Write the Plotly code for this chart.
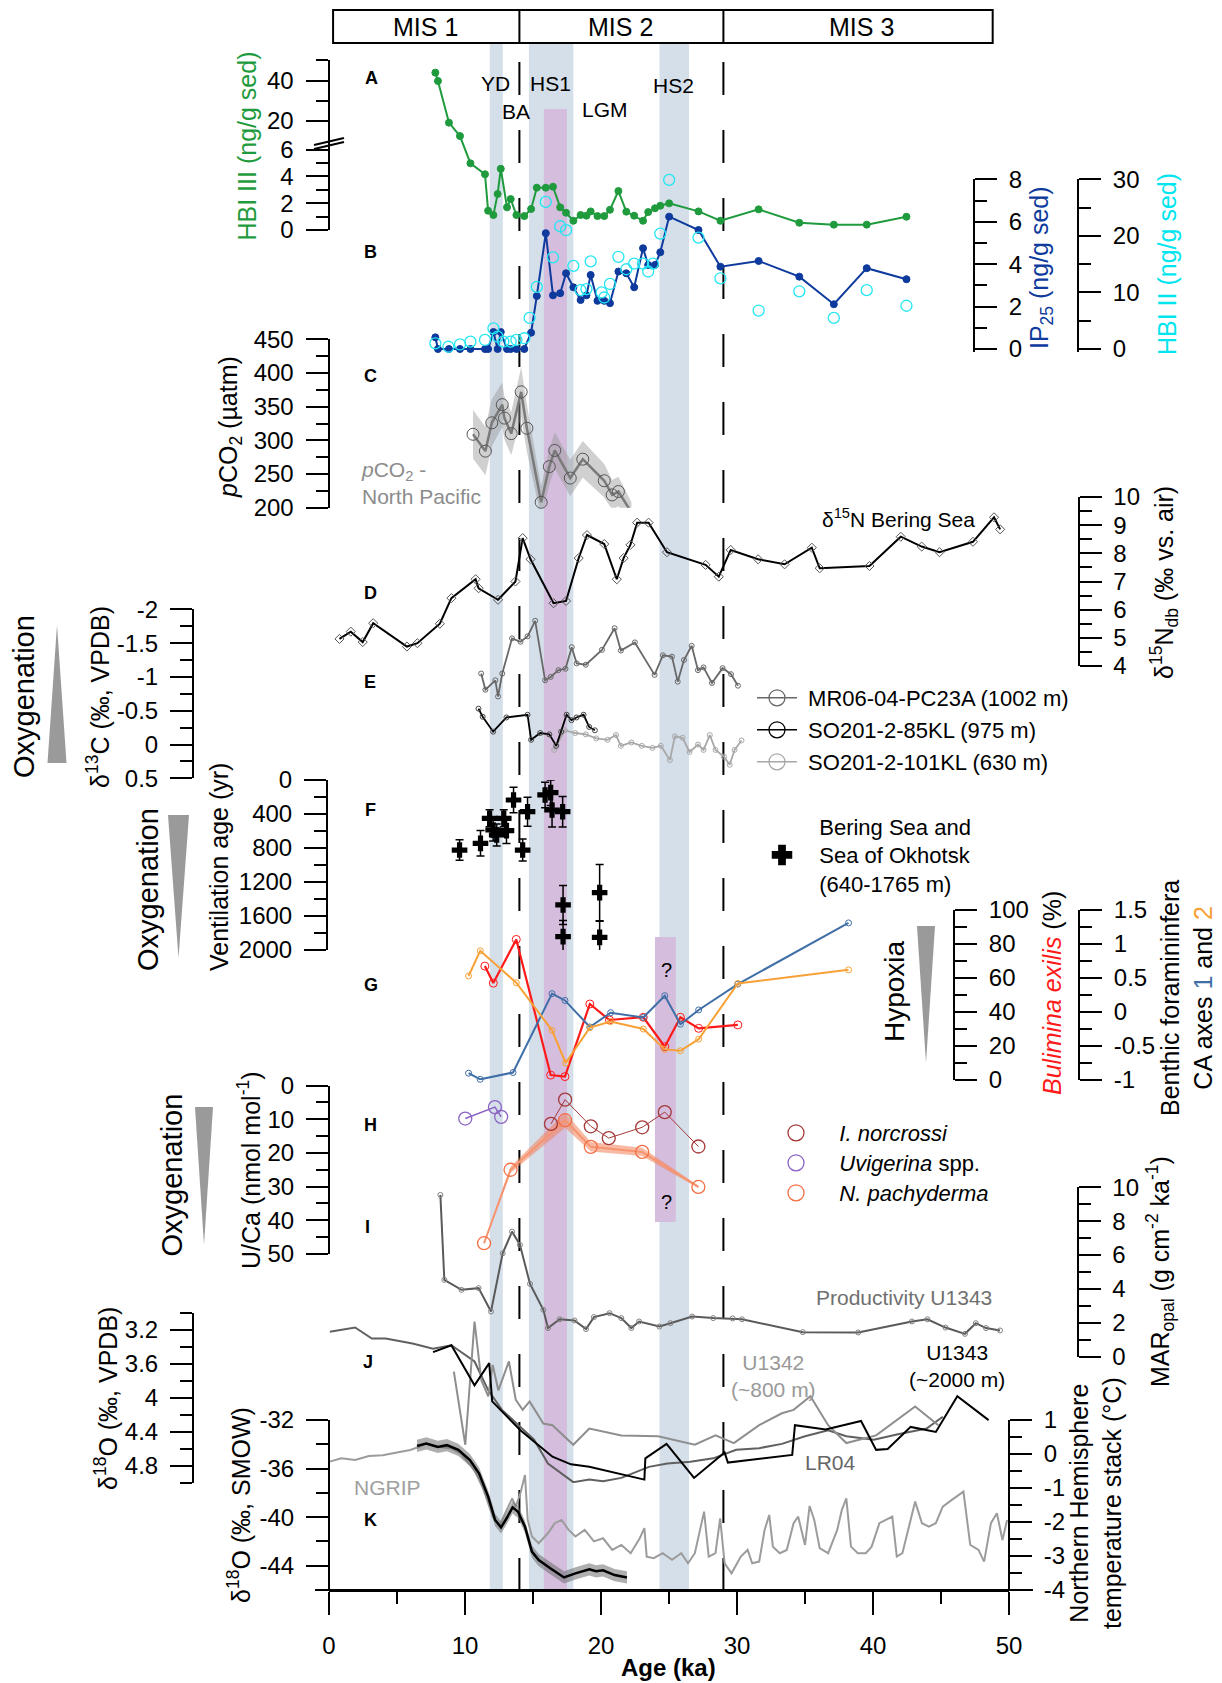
import plotly.graph_objects as go

W, H = 1222, 1683
FONT = "Liberation Sans, Arial, Helvetica, sans-serif"

# ---------------- data ----------------
mis_labels = ["MIS 1", "MIS 2", "MIS 3"]
event_labels = ["YD", "HS1", "HS2", "BA", "LGM"]

# A / B biomarkers
bio_age = [7.82, 8.01, 8.82, 9.63, 10.4, 11.47, 11.7, 12.09, 12.4, 12.63, 13.09, 13.36, 13.78, 14.36,
           14.86, 15.28, 15.94, 16.47, 17.0, 17.43, 17.97, 18.5, 18.93, 19.24, 19.74, 20.24, 20.66,
           21.28, 21.86, 22.44, 23.09, 23.47, 23.97, 24.36, 25.01, 27.17, 28.78, 31.59, 34.58, 37.12,
           39.54, 42.46]
hbi3_val = [44.2, 40, 19.2, 12.5, 4.98, 4.16, 1.44, 1.12, 2.69, 4.57, 1.69, 2.31, 1.12, 1.04, 1.57,
            3.16, 3.16, 3.23, 1.69, 1.29, 0.69, 1.12, 1.07, 1.39, 1.04, 1.04, 1.51, 2.91, 1.37, 1.07,
            0.69, 1.34, 1.62, 1.81, 1.99, 1.39, 0.69, 1.54, 0.54, 0.40, 0.40, 0.99]
ip25_val = [0.55, 0, 0, 0, 0, 0, 0, 0.8, 0, 0.8, 0, 0, 0, 0, 0.77, 2.5, 5.46, 2.53, 2.63, 3.57, 2.91,
            2.31, 2.53, 3.49, 2.27, 2.27, 2.16, 3.65, 3.57, 2.91, 4.75, 3.96, 3.96, 4.56, 6.24, 5.61,
            3.88, 4.15, 3.41, 2.11, 3.81, 3.29]
hbi2_age = [7.82, 8.78, 9.63, 10.4, 11.47, 12.09, 12.4, 12.82, 13.36, 13.78, 14.36, 14.75, 15.28,
            15.94, 16.47, 17.0, 17.43, 17.97, 18.5, 18.93, 19.24, 20.05, 20.24, 20.66, 21.28, 21.86,
            22.44, 23.09, 23.47, 23.82, 24.36, 25.01, 27.17, 28.78, 31.59, 34.58, 37.12, 39.54, 42.46]
hbi2_val = [1.0, 0.4, 0.8, 1.3, 1.6, 3.65, 2.2, 1.3, 1.3, 1.6, 1.9, 5.5, 11.0, 26.0, 16.2, 21.7, 21.0,
            14.7, 10.4, 10.6, 15.5, 10.0, 9.1, 11.5, 16.3, 14.1, 15.1, 15.1, 13.7, 15.1, 20.4, 29.9,
            19.7, 12.5, 6.8, 10.2, 5.5, 10.4, 7.65]

# C pCO2
pco2_age = [10.59, 11.5, 11.97, 12.74, 12.9, 13.4, 14.13, 14.55, 15.6, 16.2, 16.6, 17.74, 18.66,
            20.24, 20.82, 21.28, 22.24]
pco2_val = [309, 284, 326, 353, 333, 310, 372, 318, 208, 261, 285, 244, 272, 240, 219, 224, 193]
pco2_err = [36, 36, 35, 33, 32, 32, 37, 35, 24, 27, 27, 27, 27, 25, 22, 22, 15]

# D d15N
d15n_age = [0.77, 1.6, 2.48, 3.25, 5.73, 6.5, 8.15, 9.0, 10.78, 11.0, 12.43, 13.71, 14.24, 14.82,
            16.51, 17.43, 18.36, 18.97, 20.24, 21.16, 21.66, 22.16, 22.66, 23.5, 24.85, 27.69, 28.66,
            29.54, 31.55, 33.5, 35.5, 36.08, 39.74, 42.04, 43.58, 44.89, 47.35, 48.9, 49.35]
d15n_val = [4.96, 5.22, 4.85, 5.52, 4.69, 4.81, 5.5, 6.41, 7.08, 6.76, 6.35, 7.0, 8.54, 7.79, 6.23,
            6.31, 7.83, 8.65, 8.33, 7.08, 7.83, 8.3, 9.09, 9.09, 8.04, 7.59, 7.17, 8.12, 7.79, 7.61,
            8.2, 7.47, 7.55, 8.59, 8.24, 8.04, 8.41, 9.28, 8.85]

# E d13C
mr06_age = [11.19, 11.5, 12.23, 12.43, 12.74, 13.46, 14.08, 14.6, 15.16, 15.89, 16.3, 16.87, 17.39,
            17.85, 18.21, 18.88, 20.07, 21.0, 21.46, 22.49, 23.94, 24.55, 25.22, 25.64, 26.1, 26.67,
            27.13, 27.54, 28.16, 28.94, 29.56, 30.07]
mr06_val = [-1.05, -0.81, -0.95, -0.71, -1.05, -1.57, -1.52, -1.6, -1.83, -0.95, -1.0, -1.1, -1.12,
            -1.44, -1.2, -1.18, -1.4, -1.72, -1.39, -1.51, -1.03, -1.32, -1.3, -0.93, -1.25, -1.46,
            -1.1, -1.14, -0.91, -1.13, -1.04, -0.87]
so85_age = [10.99, 11.3, 12.07, 13.05, 14.6, 14.86, 15.53, 16.2, 16.71, 17.07, 17.47, 17.83, 18.2,
            18.72, 19.13, 19.55]
so85_val = [-0.53, -0.41, -0.19, -0.4, -0.44, -0.07, -0.17, -0.15, 0.02, -0.19, -0.44, -0.36, -0.4,
            -0.44, -0.26, -0.21]
so101_age = [16.56, 17.33, 18.1, 18.88, 19.65, 20.48, 21.1, 21.46, 22.23, 23.0, 23.78, 24.4, 25.07,
             25.43, 26.0, 26.51, 27.13, 27.54, 28.0, 28.42, 29.04, 29.46, 29.82, 30.33]
so101_val = [0.08, -0.21, -0.17, -0.15, -0.09, -0.07, -0.14, 0.02, -0.03, 0.02, 0.05, 0.02, 0.23,
             -0.12, -0.1, 0.11, 0.0, 0.08, -0.14, 0.08, 0.18, 0.3, 0.08, -0.06]

# F ventilation age
vent_ka = [9.6, 11.14, 11.81, 12.07, 12.33, 12.85, 13.05, 13.57, 14.24, 14.6, 15.89, 16.3, 16.4,
           17.18, 17.21, 17.21, 19.9, 19.9]
vent_yr = [824, 745, 451, 588, 647, 451, 596, 235, 824, 373, 176, 149, 353, 373, 1470, 1843, 1325,
           1851]
vent_err = [120, 150, 100, 130, 130, 100, 150, 150, 130, 170, 150, 150, 200, 180, 230, 190, 330, 190]

# G hypoxia
bul_age = [11.46, 12.08, 13.77, 16.3, 17.35, 19.18, 20.62, 23.11, 24.69, 25.84, 27.18, 30.06]
bul_val = [67, 57, 82.7, 2.9, 2.0, 44.7, 35.3, 36.9, 19.6, 36.9, 30.4, 32.4]
ca1_age = [10.26, 11.12, 13.53, 16.4, 17.35, 19.18, 20.71, 23.11, 24.69, 25.84, 27.18, 30.06, 38.2]
ca1_val = [-0.9, -0.99, -0.89, 0.27, 0.17, -0.22, -0.01, -0.08, 0.24, -0.18, 0.03, 0.41, 1.31]
ca2_age = [10.26, 11.12, 13.77, 16.4, 17.4, 19.18, 20.71, 23.11, 24.69, 25.84, 27.18, 30.06, 38.2]
ca2_val = [0.53, 0.9, 0.43, -0.27, -0.75, -0.23, -0.14, -0.25, -0.55, -0.57, -0.4, 0.42, 0.62]

# H U/Ca
norc_age = [16.32, 17.36, 19.25, 20.57, 23.03, 24.69, 27.16]
norc_val = [11.4, 4.2, 12.1, 15.6, 12.4, 7.9, 18.1]
uvi_age = [10.02, 12.2, 12.66]
uvi_val = [9.8, 6.4, 9.3]
pachy_age = [11.4, 13.35, 17.36, 19.25, 23.03, 27.16]
pachy_val = [46.8, 25.0, 10.3, 18.2, 19.7, 30.1]
pachy_err = [0.4, 1.0, 2.2, 1.4, 1.2, 0.4]

# I opal MAR
mar_age = [8.19, 8.48, 9.74, 11.0, 11.91, 12.77, 13.46, 14.04, 14.78, 15.76, 16.1, 16.96, 18.05,
           18.9, 19.48, 20.63, 21.49, 22.23, 22.8, 24.29, 25.1, 26.7, 28.25, 29.68, 30.37, 34.84,
           38.91, 42.86, 44.0, 45.33, 46.76, 47.56, 48.31, 49.34]
mar_val = [9.55, 4.53, 3.94, 4.04, 2.66, 6.1, 7.38, 6.6, 4.29, 2.76, 1.68, 2.2, 2.13, 1.62, 2.33,
           2.56, 2.27, 1.68, 2.07, 1.77, 1.97, 2.36, 2.27, 2.25, 2.2, 1.44, 1.42, 2.07, 2.2, 1.71,
           1.34, 1.97, 1.68, 1.54]

# J benthic d18O
lr04_age = [0.06, 1.92, 3.15, 4.17, 6.14, 7.65, 9.0, 10.7, 11.71, 12.72, 14.07, 15.08, 16.1, 17.96,
            19.14, 20.15, 21.5, 23.52, 24.88, 26.57, 28.25, 29.94, 31.63, 33.3, 35.0, 36.7, 38.04,
            40.06, 41.75, 43.94, 45.13]
lr04_val = [3.22, 3.17, 3.3, 3.3, 3.36, 3.42, 3.38, 3.57, 3.91, 4.14, 4.34, 4.49, 4.77, 4.99, 4.96,
            4.98, 4.94, 4.81, 4.77, 4.75, 4.71, 4.61, 4.59, 4.54, 4.45, 4.38, 4.45, 4.49, 4.43, 4.36,
            4.22]
u1342_age = [9.18, 10.02, 10.7, 11.2, 11.71, 12.04, 12.45, 13.23, 13.73, 14.24, 14.75, 15.76, 16.43,
             17.96, 19.14, 21.5, 24.2, 26.9, 28.42, 29.77, 31.63, 33.3, 34.16, 35.4, 36.7, 38.04,
             40.23, 43.1, 44.8]
u1342_val = [3.69, 4.55, 3.1, 3.79, 3.98, 3.61, 3.91, 3.57, 4.02, 4.14, 4.04, 4.3, 4.32, 4.55, 4.36,
             4.44, 4.45, 4.55, 4.44, 4.53, 4.32, 4.18, 4.14, 3.98, 4.32, 4.53, 4.44, 4.1, 4.32]
u1343_age = [7.65, 9.0, 10.7, 11.78, 12.0, 14.07, 16.43, 17.79, 19.14, 23.19, 23.26, 24.82, 26.84,
             29.09, 29.33, 34.06, 34.26, 36.52, 39.12, 40.23, 41.08, 42.77, 44.62, 46.2, 48.5]
u1343_val = [3.46, 3.38, 3.85, 3.59, 4.04, 4.38, 4.69, 4.78, 4.81, 4.96, 4.71, 4.54, 4.94, 4.64,
             4.76, 4.67, 4.32, 4.37, 4.27, 4.61, 4.6, 4.34, 4.4, 3.98, 4.26]

# K NGRIP and NH temperature stack
ngrip_age = [0.06, 0.9, 1.92, 2.93, 3.94, 4.96, 5.97, 6.65, 7.15, 8.0, 9.0, 9.68, 10.7, 11.37, 12.04,
             12.55, 13.06, 13.47, 13.73, 14.07, 14.41, 14.61, 14.92, 15.42, 16.1, 16.6, 17.1, 17.62,
             18.12, 18.8, 19.48, 20.15, 20.83, 21.5, 22.18, 22.85, 23.19, 23.36, 23.87, 24.54,
             25.22, 25.9, 26.4, 26.9, 27.58, 27.92, 28.42, 28.76, 29.09, 29.6, 30.28, 30.78, 31.12,
             31.63, 32.03, 32.37, 32.64, 33.15, 33.66, 34.16, 34.5, 35.0, 35.34, 35.68, 36.08, 36.7,
             37.37, 37.71, 38.04, 38.38, 38.89, 39.47, 39.9, 40.47, 41.42, 41.75, 42.16, 42.6, 43.1,
             43.6, 44.11, 44.62, 45.13, 45.8, 46.65, 47.15, 47.76, 48.17, 48.67, 49.11, 49.52, 49.86]
ngrip_val = [-35.43, -35.15, -35.3, -34.96, -34.9, -34.7, -34.47, -34.2, -33.92, -34.2, -34.33,
             -34.74, -36.12, -37.76, -39.96, -40.64, -39.4, -38.45, -39.13, -38.03, -36.53, -40.23,
             -41.6, -42.15, -41.33, -40.5, -40.23, -41.05, -41.6, -41.05, -42.0, -41.74, -42.7,
             -42.29, -42.97, -41.74, -40.91, -43.25, -43.38, -42.97, -43.52, -42.97, -43.8, -42.97,
             -39.55, -43.25, -42.97, -40.1, -43.8, -44.62, -43.25, -42.7, -43.8, -43.66, -41.05,
             -39.82, -42.43, -42.97, -42.7, -40.5, -39.96, -42.29, -39.08, -40.23, -42.56, -42.97,
             -41.05, -39.4, -38.45, -42.43, -42.97, -42.97, -42.43, -40.5, -39.96, -43.25, -42.97,
             -41.05, -38.72, -40.5, -40.78, -40.5, -39.13, -38.58, -37.9, -42.29, -42.7, -43.66,
             -40.5, -39.68, -41.88, -40.23]
nh_age = [6.47, 7.15, 8.0, 8.67, 9.51, 10.36, 11.03, 11.71, 12.21, 12.65, 13.06, 13.5, 13.9, 14.41,
          14.92, 15.42, 16.27, 17.28, 18.12, 19.14, 19.64, 20.15, 21.0, 21.91]
nh_val = [0.24, 0.31, 0.21, 0.26, 0.12, -0.18, -0.57, -1.26, -1.94, -2.16, -1.89, -1.57, -1.7, -2.14,
          -2.87, -3.12, -3.36, -3.63, -3.51, -3.39, -3.45, -3.42, -3.56, -3.63]
nh_err = [0.18, 0.18, 0.18, 0.18, 0.18, 0.18, 0.18, 0.18, 0.18, 0.18, 0.18, 0.18, 0.18, 0.18, 0.18,
          0.18, 0.18, 0.18, 0.18, 0.18, 0.18, 0.18, 0.18, 0.18]

# ---------------- helpers ----------------
TICK = 24
TITLE = 25


def px(x):
    return x / W


def py(y):
    return 1 - y / H


def ydom(va, pa, vb, pb, lo, hi):
    k = (pb - pa) / (vb - va)
    p1 = pa + (lo - va) * k
    p2 = pa + (hi - va) * k
    return [py(max(p1, p2)), py(min(p1, p2))]


def hbi_u(v):  # broken axis mapping for HBI III (lower 0-6, upper 20-40)
    return v if v <= 6.42 else (86 + (v - 8.5) * 2) / 13.4


def yax(pos, side, dom, rng, tv, tt, mv, color="black"):
    return dict(
        anchor="free", position=px(pos), side=side, domain=dom, range=rng, automargin=False,
        showline=True, linecolor="black", linewidth=2, ticks="outside", ticklen=22,
        tickwidth=2, tickcolor="black", showgrid=False, zeroline=False,
        tickmode="array", tickvals=tv, ticktext=tt, ticklabelstandoff=7,
        tickfont=dict(size=TICK, color=color, family=FONT),
        minor=dict(tickmode="array", tickvals=mv, ticklen=12, tickwidth=2, tickcolor="black",
                   ticks="outside", showgrid=False),
    )


fig = go.Figure()


def sc(x, y, ax, color, width=2, mode="lines+markers", msym="circle", msize=6, mcolor=None,
       mlw=1, dash=None, **kw):
    fig.add_trace(go.Scatter(
        x=x, y=y, yaxis=ax, xaxis="x", mode=mode, showlegend=False, hoverinfo="skip",
        line=dict(color=color, width=width, dash=dash),
        marker=dict(symbol=msym, size=msize, color=mcolor or color, line=dict(color=mcolor or color, width=mlw)),
        cliponaxis=False, **kw))


def band(x, lo, hi, ax, fill):
    fig.add_trace(go.Scatter(x=x, y=lo, yaxis=ax, mode="lines", line=dict(width=0),
                             showlegend=False, hoverinfo="skip"))
    fig.add_trace(go.Scatter(x=x, y=hi, yaxis=ax, mode="lines", line=dict(width=0),
                             fill="tonexty", fillcolor=fill, showlegend=False, hoverinfo="skip"))


GREEN = "#1f9b3e"
BLUE = "#0d3a9c"
CYAN = "#22e6f2"

# A
sc(bio_age, [hbi_u(v) for v in hbi3_val], "y", GREEN, 2, msize=7)
# B
sc(hbi2_age, hbi2_val, "y3", CYAN, mode="markers", msym="circle-open", msize=11, mlw=1.3)
sc(bio_age, ip25_val, "y2", BLUE, 2, msize=7)
# C
band(pco2_age, [v - e for v, e in zip(pco2_val, pco2_err)],
     [v + e for v, e in zip(pco2_val, pco2_err)], "y4", "rgba(150,150,150,0.45)")
sc(pco2_age, pco2_val, "y4", "#7a7a7a", 2.5, msym="circle-open", msize=12, mcolor="#555555", mlw=1)
# D
sc(d15n_age, d15n_val, "y5", "black", 2, msym="diamond-open", msize=7, mcolor="#555555", mlw=1)
# E
sc(so101_age, so101_val, "y6", "#a8a8a8", 1.8, msym="circle-open", msize=5, mlw=1)
sc(mr06_age, mr06_val, "y6", "#686868", 1.8, msym="circle-open", msize=5, mlw=1)
sc(so85_age, so85_val, "y6", "black", 1.8, msym="circle-open", msize=5, mcolor="#444444", mlw=1)
# F
fig.add_trace(go.Scatter(x=vent_ka, y=vent_yr, yaxis="y7", mode="markers", showlegend=False,
                         marker=dict(symbol="cross", size=13, color="black"),
                         error_y=dict(type="data", array=vent_err, color="black", thickness=1.5, width=4),
                         hoverinfo="skip", cliponaxis=False))
# G
sc(ca1_age, ca1_val, "y9", "#3f6fa6", 2, msym="circle-open", msize=6, mlw=1)
sc(ca2_age, ca2_val, "y9", "#f7a136", 2, msym="circle-open", msize=6, mlw=1)
sc(bul_age, bul_val, "y8", "#ff1a1a", 2.2, msym="circle-open", msize=8, mlw=1)
# H
band(pachy_age, [v - e for v, e in zip(pachy_val, pachy_err)],
     [v + e for v, e in zip(pachy_val, pachy_err)], "y10", "rgba(244,130,90,0.55)")
sc(pachy_age, pachy_val, "y10", "#f79470", 2, msym="circle-open", msize=13, mcolor="#f36f45", mlw=1.3)
sc(norc_age, norc_val, "y10", "#a5393a", 1, msym="circle-open", msize=13, mcolor="#a5393a", mlw=1.3)
sc(uvi_age, uvi_val, "y10", "#8a63c2", 1.5, msym="circle-open", msize=13, mcolor="#8a63c2", mlw=1.3)
# I
sc(mar_age, mar_val, "y11", "#5a5a5a", 2, msym="circle-open", msize=5, mcolor="#808080", mlw=1)
# J
sc(lr04_age, lr04_val, "y12", "#606060", 2, mode="lines")
sc(u1342_age, u1342_val, "y12", "#8e8e8e", 2, mode="lines")
sc(u1343_age, u1343_val, "y12", "black", 2, mode="lines")
# K
sc(ngrip_age, ngrip_val, "y13", "#9c9c9c", 2, mode="lines")
band(nh_age, [v - e for v, e in zip(nh_val, nh_err)], [v + e for v, e in zip(nh_val, nh_err)],
     "y14", "rgba(110,110,110,0.55)")
sc(nh_age, nh_val, "y14", "black", 2.5, mode="lines")


# ---------------- legends ----------------
def leg_trace(name, legend, ax, color, mode, sym, size, lw=1.5):
    fig.add_trace(go.Scatter(x=[None], y=[None], yaxis=ax, mode=mode, name=name, legend=legend,
                             showlegend=True, line=dict(color=color, width=lw),
                             marker=dict(symbol=sym, size=size, color=color, line=dict(color=color, width=1.3))))


n1 = "\u00a0"
n2 = "\u00a0\u00a0"
nb = "\u00a0\u00a0\u00a0"
leg_trace(n1 + "MR06-04-PC23A (1002 m)", "legend", "y6", "#686868", "lines+markers", "circle-open", 16)
leg_trace(n1 + "SO201-2-85KL (975 m)", "legend2", "y6", "black", "lines+markers", "circle-open", 16)
leg_trace(n1 + "SO201-2-101KL (630 m)", "legend3", "y6", "#a8a8a8", "lines+markers", "circle-open", 16)
leg_trace(n2 + "Bering Sea and<br>" + n2 + "Sea of Okhotsk<br>" + n2 + "(640-1765 m)", "legend4", "y7",
          "black", "markers", "cross", 16)
leg_trace(nb + "<i>I. norcrossi</i>", "legend5", "y10", "#a5393a", "markers", "circle-open", 16)
leg_trace(nb + "<i>Uvigerina</i> spp.", "legend6", "y10", "#8a63c2", "markers", "circle-open", 16)
leg_trace(nb + "<i>N. pachyderma</i>", "legend7", "y10", "#f36f45", "markers", "circle-open", 16)


def leg(xp, yp, size=22):
    return dict(x=px(xp), y=py(yp), xanchor="left", yanchor="middle", bgcolor="rgba(0,0,0,0)",
                borderwidth=0, itemwidth=40, font=dict(size=size, color="black", family=FONT),
                itemclick=False)


# ---------------- axes ----------------
layout_axes = {}
layout_axes["yaxis"] = yax(328.5, "left", [py(230), py(60)], [0, 12.69],
                           [hbi_u(v) for v in [0, 2, 4, 6, 20, 40]], ["0", "2", "4", "6", "20", "40"],
                           [hbi_u(v) for v in [1, 3, 5, 30]] + [12.69])
layout_axes["yaxis2"] = yax(974, "right", ydom(0, 349, 8, 179.3, -0.15, 8), [-0.15, 8],
                            [0, 2, 4, 6, 8], ["0", "2", "4", "6", "8"], [1, 3, 5, 7])
layout_axes["yaxis3"] = yax(1078, "right", ydom(0, 349, 30, 179.3, -0.56, 30), [-0.56, 30],
                            [0, 10, 20, 30], ["0", "10", "20", "30"], [5, 15, 25])
layout_axes["yaxis4"] = yax(328.5, "left", ydom(450, 339.3, 200, 507.7, 200, 450), [200, 450],
                            [200, 250, 300, 350, 400, 450], ["200", "250", "300", "350", "400", "450"],
                            [225, 275, 325, 375, 425])
layout_axes["yaxis5"] = yax(1078.5, "right", ydom(10, 497, 4, 666, 4, 10), [4, 10],
                            [4, 5, 6, 7, 8, 9, 10], ["4", "5", "6", "7", "8", "9", "10"],
                            [4.5, 5.5, 6.5, 7.5, 8.5, 9.5])
layout_axes["yaxis6"] = yax(193, "left", ydom(-2, 609.3, 0.5, 778.3, -2, 0.5), [0.5, -2],
                            [-2, -1.5, -1, -0.5, 0, 0.5], ["-2", "-1.5", "-1", "-0.5", "0", "0.5"],
                            [-1.75, -1.25, -0.75, -0.25, 0.25])
layout_axes["yaxis7"] = yax(327, "left", ydom(0, 780, 2000, 950, 0, 2000), [2000, 0],
                            [0, 400, 800, 1200, 1600, 2000], ["0", "400", "800", "1200", "1600", "2000"],
                            [200, 600, 1000, 1400, 1800])
layout_axes["yaxis8"] = yax(954, "right", ydom(0, 1080, 100, 910, 0, 100), [0, 100],
                            [0, 20, 40, 60, 80, 100], ["0", "20", "40", "60", "80", "100"],
                            [10, 30, 50, 70, 90])
layout_axes["yaxis9"] = yax(1079, "right", ydom(-1, 1080, 1.5, 910, -1, 1.5), [-1, 1.5],
                            [-1, -0.5, 0, 0.5, 1, 1.5], ["-1", "-0.5", "0", "0.5", "1", "1.5"],
                            [-0.75, -0.25, 0.25, 0.75, 1.25])
layout_axes["yaxis10"] = yax(329, "left", ydom(0, 1085.5, 50, 1254, 0, 50), [50, 0],
                             [0, 10, 20, 30, 40, 50], ["0", "10", "20", "30", "40", "50"],
                             [5, 15, 25, 35, 45])
layout_axes["yaxis11"] = yax(1077.5, "right", ydom(0, 1356.5, 10, 1187.3, 0, 10), [0, 10],
                             [0, 2, 4, 6, 8, 10], ["0", "2", "4", "6", "8", "10"], [1, 3, 5, 7, 9])
layout_axes["yaxis12"] = yax(193, "left", ydom(3, 1313, 5, 1483, 3, 5), [5, 3],
                             [3.2, 3.6, 4.0, 4.4, 4.8], ["3.2", "3.6", "4", "4.4", "4.8"],
                             [3.0, 3.4, 3.8, 4.2, 4.6, 5.0])
layout_axes["yaxis13"] = yax(329, "left", ydom(-46, 1590, -32, 1420, -46, -32), [-46, -32],
                             [-44, -40, -36, -32], ["-44", "-40", "-36", "-32"], [-46, -42, -38, -34])
layout_axes["yaxis14"] = yax(1009, "right", ydom(-4, 1590, 1, 1420, -4, 1), [-4, 1],
                             [-4, -3, -2, -1, 0, 1], ["-4", "-3", "-2", "-1", "0", "1"],
                             [-3.5, -2.5, -1.5, -0.5, 0.5])

xaxis = dict(domain=[px(329), px(1009)], range=[0, 50], anchor="y13", showline=True, linecolor="black",
             linewidth=2, ticks="outside", ticklen=23, tickwidth=2, tickcolor="black", showgrid=False,
             zeroline=False, tickmode="array", tickvals=[0, 10, 20, 30, 40, 50], automargin=False,
             ticktext=["0", "10", "20", "30", "40", "50"], ticklabelstandoff=10,
             tickfont=dict(size=TICK, color="black", family=FONT),
             minor=dict(tickmode="array", tickvals=[5, 15, 25, 35, 45], ticklen=12, tickwidth=2,
                        tickcolor="black", ticks="outside", showgrid=False))

# ---------------- shapes ----------------
shapes = []
BANDC = "#d5dfea"
PURP = "#d4bddd"
for a, b in [(11.82, 12.78), (14.7, 17.97), (24.3, 26.47)]:
    shapes.append(dict(type="rect", xref="x", yref="paper", x0=a, x1=b, y0=py(1590), y1=py(43),
                       fillcolor=BANDC, line=dict(width=0), layer="below"))
shapes.append(dict(type="rect", xref="x", yref="paper", x0=15.8, x1=17.5, y0=py(1590), y1=py(109),
                   fillcolor=PURP, line=dict(width=0), layer="below"))
shapes.append(dict(type="rect", xref="x", yref="paper", x0=23.97, x1=25.5, y0=py(1222), y1=py(937),
                   fillcolor=PURP, line=dict(width=0), layer="below"))
for xv in [14, 29]:
    shapes.append(dict(type="line", xref="x", yref="paper", x0=xv, x1=xv, y0=py(62), y1=py(1590),
                       line=dict(color="black", width=2, dash="33px,35px"), layer="below"))
# MIS box
shapes.append(dict(type="rect", xref="x", yref="paper", x0=0.3, x1=48.8, y0=py(43), y1=py(10),
                   line=dict(color="black", width=2), fillcolor="rgba(0,0,0,0)"))
for xv in [14, 29]:
    shapes.append(dict(type="line", xref="x", yref="paper", x0=xv, x1=xv, y0=py(43), y1=py(10),
                       line=dict(color="black", width=2)))
# x axis extension
shapes.append(dict(type="line", xref="paper", yref="paper", x0=px(315), x1=px(1033), y0=py(1590),
                   y1=py(1590), line=dict(color="black", width=2)))
# axis break marks on A
for dy in [0, 4]:
    shapes.append(dict(type="line", xref="paper", yref="paper", x0=px(314), x1=px(344),
                       y0=py(149 - dy), y1=py(142 - dy), line=dict(color="black", width=2)))


# triangles
def tri(xa, ya, xb1, xb2, yb):
    return dict(type="path", xref="paper", yref="paper",
                path=f"M {px(xa)},{py(ya)} L {px(xb1)},{py(yb)} L {px(xb2)},{py(yb)} Z",
                fillcolor="#9a9a9a", line=dict(width=0))


shapes.append(tri(57, 625, 47.5, 66.5, 763))
shapes.append(tri(178.5, 958, 168, 189, 815))
shapes.append(tri(204, 1245, 195, 213, 1107))
shapes.append(tri(926, 1063, 917, 935, 926))

# ---------------- annotations ----------------
anns = []


def ann(text, x, y, size=22, color="black", angle=0, xanchor="center", align="center"):
    anns.append(dict(text=text, x=px(x), y=py(y), xref="paper", yref="paper", showarrow=False,
                     font=dict(size=size, color=color, family=FONT), textangle=angle,
                     xanchor=xanchor, yanchor="middle", align=align))


for lab, xx in zip(mis_labels, [425, 621, 862]):
    ann(lab, xx, 27, 25)
for lab, (xx, yy) in zip(event_labels, [(495.5, 83), (550.4, 83), (673, 86), (516.4, 112), (605.3, 110)]):
    ann(lab, xx, yy, 21)
for lab, (xx, yy) in zip("ABCDEFGHIJK", [(371, 78), (370, 252), (370, 376), (370, 593), (370, 682),
                                          (370, 810), (371, 985), (370, 1125), (367, 1227),
                                          (368, 1362), (370, 1520)]):
    ann("<b>" + lab + "</b>", xx, yy, 18)

ann("HBI III (ng/g sed)", 246.5, 146, TITLE, GREEN, -90)
ann("<i>p</i>CO<sub>2</sub> (µatm)", 230, 427, TITLE, "black", -90)
ann("δ<sup>13</sup>C (‰, VPDB)", 98, 697, TITLE, "black", -90)
ann("Oxygenation", 24, 697, 29, "black", -90)
ann("Ventilation age (yr)", 219, 867, TITLE, "black", -90)
ann("Oxygenation", 148, 890, 29, "black", -90)
ann("U/Ca (nmol mol<sup>-1</sup>)", 249, 1170, TITLE, "black", -90)
ann("Oxygenation", 171.5, 1175, 29, "black", -90)
ann("δ<sup>18</sup>O (‰, VPDB)", 106, 1398, TITLE, "black", -90)
ann("δ<sup>18</sup>O (‰, SMOW)", 239, 1505, TITLE, "black", -90)

ann("IP<sub>25</sub> (ng/g sed)", 1041, 268, TITLE, BLUE, -90)
ann("HBI II (ng/g sed)", 1167, 264, TITLE, "#00e5ee", -90)
ann("δ<sup>15</sup>N<sub>db</sub> (‰ vs. air)", 1164, 583, TITLE, "black", -90)
ann("Hypoxia", 894, 991, 28, "black", -90)
ann("<span style='color:#ff1a1a'><i>Bulimina exilis</i></span> (%)", 1052, 993, TITLE, "black", -90)
ann("Benthic foramininfera<br>CA axes <span style='color:#3f6fa6'>1</span> and "
    "<span style='color:#f7a136'>2</span>", 1187, 998, TITLE, "black", -90)
ann("MAR<sub>opal</sub> (g cm<sup>-2</sup> ka<sup>-1</sup>)", 1160, 1272, TITLE, "black", -90)
ann("Northern Hemisphere<br>temperature stack (°C)", 1095, 1503, TITLE, "black", -90)

ann("<i>p</i>CO<sub>2</sub> -<br>North Pacific", 359.5, 483, 21, "#8c8c8c", xanchor="left", align="left")
ann("δ<sup>15</sup>N Bering Sea", 898, 518, 21)
ann("Productivity U1343", 994, 1297, 21, "#707070", xanchor="right")
ann("U1342<br>(~800 m)", 773, 1376, 21, "#999999")
ann("U1343<br>(~2000 m)", 957, 1366, 21)
ann("LR04", 830, 1462, 21, "#666666")
ann("NGRIP", 387, 1487, 21, "#a0a0a0")
ann("?", 666, 970, 20)
ann("?", 666, 1202, 20)
ann("<b>Age (ka)</b>", 668, 1667, 24)

layout = dict(
    width=W, height=H, margin=dict(l=0, r=0, t=0, b=0, autoexpand=False), paper_bgcolor="white",
    plot_bgcolor="rgba(0,0,0,0)", font=dict(family=FONT, color="black"),
    xaxis=xaxis, shapes=shapes, annotations=anns,
    legend=leg(752, 698), legend2=leg(752, 730), legend3=leg(752, 762),
    legend4=leg(757, 855), legend5=leg(771, 1133), legend6=leg(771, 1163), legend7=leg(771, 1193),
)
layout.update(layout_axes)
fig.update_layout(**layout)
fig.write_html("out.html")
